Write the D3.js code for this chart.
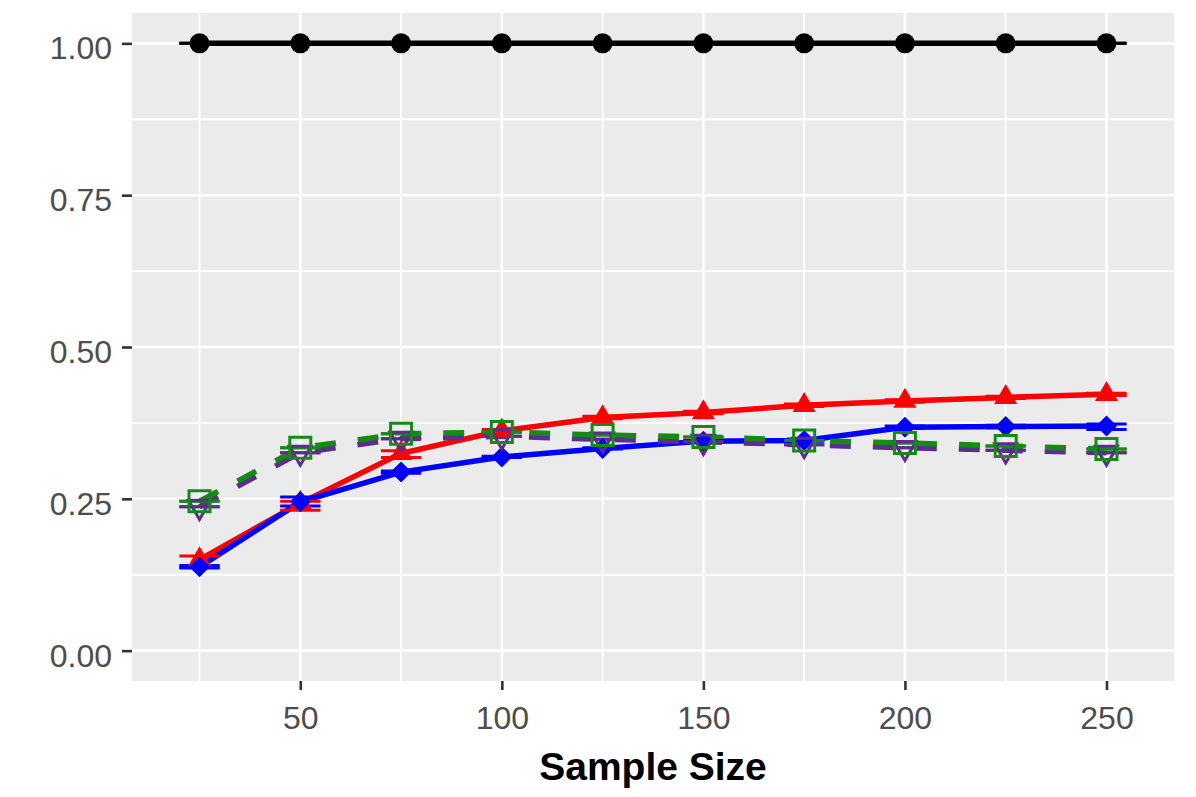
<!DOCTYPE html>
<html>
<head>
<meta charset="utf-8">
<script src="https://cdn.jsdelivr.net/npm/d3@7"></script>
<style>
  body { margin: 0; background: #fff; }
  svg { display: block; font-family: "Liberation Sans", Arial, sans-serif; }
</style>
</head>
<body>
<div id="chart"></div>
<script>
// Chart data
var sampleSizes = [25, 50, 75, 100, 125, 150, 175, 200, 225, 250];
var xTicks = [50, 100, 150, 200, 250];
var yTicks = [0, 0.25, 0.5, 0.75, 1];

var blackVals = [1, 1, 1, 1, 1, 1, 1, 1, 1, 1];
var redVals   = [0.150, 0.243, 0.325, 0.362, 0.384, 0.392, 0.404, 0.411, 0.417, 0.422];
var redLo     = [0.137, 0.231, 0.318, 0.360, 0.382, 0.390, 0.402, 0.409, 0.415, 0.420];
var redHi     = [0.156, 0.246, 0.329, 0.364, 0.386, 0.394, 0.406, 0.413, 0.419, 0.424];
var blueVals  = [0.138, 0.245, 0.294, 0.319, 0.333, 0.345, 0.346, 0.368, 0.369, 0.370];
var blueLo    = [0.136, 0.238, 0.292, 0.318, 0.332, 0.344, 0.345, 0.366, 0.367, 0.364];
var blueHi    = [0.140, 0.253, 0.296, 0.320, 0.334, 0.346, 0.347, 0.370, 0.371, 0.373];
var purpleVals = [0.237, 0.326, 0.349, 0.353, 0.348, 0.344, 0.339, 0.334, 0.330, 0.326];
var greenVals  = [0.246, 0.334, 0.357, 0.360, 0.355, 0.352, 0.346, 0.342, 0.337, 0.332];

// Page and panel dimensions
var width = 1196, height = 797;
var panel = {left: 132, right: 1174, top: 13, bottom: 681};

var svg = d3.select("#chart").append("svg")
    .attr("width", width)
    .attr("height", height);

// Scales (ggplot style 5% expansion)
var x = d3.scaleLinear()
    .domain([8.25, 266.75])
    .range([panel.left, panel.right]);

var y = d3.scaleLinear()
    .domain([-0.05, 1.05])
    .range([panel.bottom, panel.top]);

// Grey panel background
svg.append("rect")
    .attr("x", panel.left)
    .attr("y", panel.top)
    .attr("width", panel.right - panel.left)
    .attr("height", panel.bottom - panel.top)
    .attr("fill", "#EBEBEB");

// Minor grid lines
var xMinor = [25, 75, 125, 175, 225];
var yMinor = [0.125, 0.375, 0.625, 0.875];

svg.selectAll(".xminor").data(xMinor).enter().append("line")
    .attr("x1", d => x(d)).attr("x2", d => x(d))
    .attr("y1", panel.top).attr("y2", panel.bottom)
    .attr("stroke", "#fff").attr("stroke-width", 1.8);

svg.selectAll(".yminor").data(yMinor).enter().append("line")
    .attr("y1", d => y(d)).attr("y2", d => y(d))
    .attr("x1", panel.left).attr("x2", panel.right)
    .attr("stroke", "#fff").attr("stroke-width", 1.8);

// Major grid lines
svg.selectAll(".xmajor").data(xTicks).enter().append("line")
    .attr("x1", d => x(d)).attr("x2", d => x(d))
    .attr("y1", panel.top).attr("y2", panel.bottom)
    .attr("stroke", "#fff").attr("stroke-width", 2.6);

svg.selectAll(".ymajor").data(yTicks).enter().append("line")
    .attr("y1", d => y(d)).attr("y2", d => y(d))
    .attr("x1", panel.left).attr("x2", panel.right)
    .attr("stroke", "#fff").attr("stroke-width", 2.6);

// Axes
var xAxis = svg.append("g")
    .attr("transform", "translate(0," + panel.bottom + ")")
    .call(d3.axisBottom(x).tickValues(xTicks).tickSize(9).tickPadding(16));

var yAxis = svg.append("g")
    .attr("transform", "translate(" + panel.left + ",0)")
    .call(d3.axisLeft(y).tickValues(yTicks).tickFormat(d3.format(".2f")).tickSize(10).tickPadding(10));

[xAxis, yAxis].forEach(function(g) {
    g.select(".domain").remove();
    g.selectAll(".tick line").attr("stroke", "#333").attr("stroke-width", 2.6);
    g.selectAll(".tick text")
        .attr("fill", "#4D4D4D")
        .style("font-size", "32px")
        .style("font-family", "'Liberation Sans', Arial, sans-serif");
});
yAxis.selectAll(".tick text").attr("dy", "0.48em");

// X axis title
svg.append("text")
    .attr("x", (panel.left + panel.right) / 2)
    .attr("y", 780)
    .attr("text-anchor", "middle")
    .style("font-size", "39px")
    .style("font-weight", "bold")
    .attr("fill", "#000")
    .text("Sample Size");

// Series table built from the arrays above
var series = [
    {vals: blackVals, lo: blackVals, hi: blackVals, color: "#000000", dash: null, shape: "circle"},
    {vals: redVals, lo: redLo, hi: redHi, color: "#FF0000", dash: null, shape: "triangle"},
    {vals: blueVals, lo: blueLo, hi: blueHi, color: "#0000FF", dash: null, shape: "diamond"},
    {vals: purpleVals, lo: purpleVals, hi: purpleVals, color: "#5B2D8E", dash: "21,22", shape: "downtri"},
    {vals: greenVals, lo: greenVals, hi: greenVals, color: "#168A16", dash: "21,22", shape: "square"}
];

var line = d3.line()
    .x((d, i) => x(sampleSizes[i]))
    .y(d => y(d));

// Lines
series.forEach(function(s) {
    svg.append("path")
        .attr("d", line(s.vals))
        .attr("fill", "none")
        .attr("stroke", s.color)
        .attr("stroke-width", 5.5)
        .attr("stroke-dasharray", s.dash);
});

// Error bars (half width of 5 units on x)
series.forEach(function(s) {
    var g = svg.append("g").attr("stroke", s.color).attr("stroke-width", 3).attr("fill", "none");
    sampleSizes.forEach(function(n, i) {
        var x0 = x(n - 5), x1 = x(n + 5);
        g.append("line").attr("x1", x0).attr("x2", x1).attr("y1", y(s.lo[i])).attr("y2", y(s.lo[i]));
        g.append("line").attr("x1", x0).attr("x2", x1).attr("y1", y(s.hi[i])).attr("y2", y(s.hi[i]));
        g.append("line").attr("x1", x(n)).attr("x2", x(n)).attr("y1", y(s.lo[i])).attr("y2", y(s.hi[i]));
    });
});

// Point shapes
var shapes = {
    circle: {d: d3.symbol().type(d3.symbolCircle).size(Math.PI * 100)(), filled: true},
    triangle: {d: d3.symbol().type(d3.symbolTriangle).size(230)(), filled: true},
    diamond: {d: "M0,-10.5L10.5,0L0,10.5L-10.5,0Z", filled: true},
    downtri: {d: "M-11,-6.4L11,-6.4L0,12.7Z", filled: false},
    square: {d: "M-10.5,-10.5h21v21h-21Z", filled: false}
};

series.forEach(function(s) {
    var sh = shapes[s.shape];
    svg.append("g").selectAll("path")
        .data(s.vals)
        .enter().append("path")
        .attr("transform", (d, i) => "translate(" + x(sampleSizes[i]) + "," + y(d) + ")")
        .attr("d", sh.d)
        .attr("fill", sh.filled ? s.color : "none")
        .attr("stroke", sh.filled ? "none" : s.color)
        .attr("stroke-width", sh.filled ? 0 : 3);
});
</script>
</body>
</html>
